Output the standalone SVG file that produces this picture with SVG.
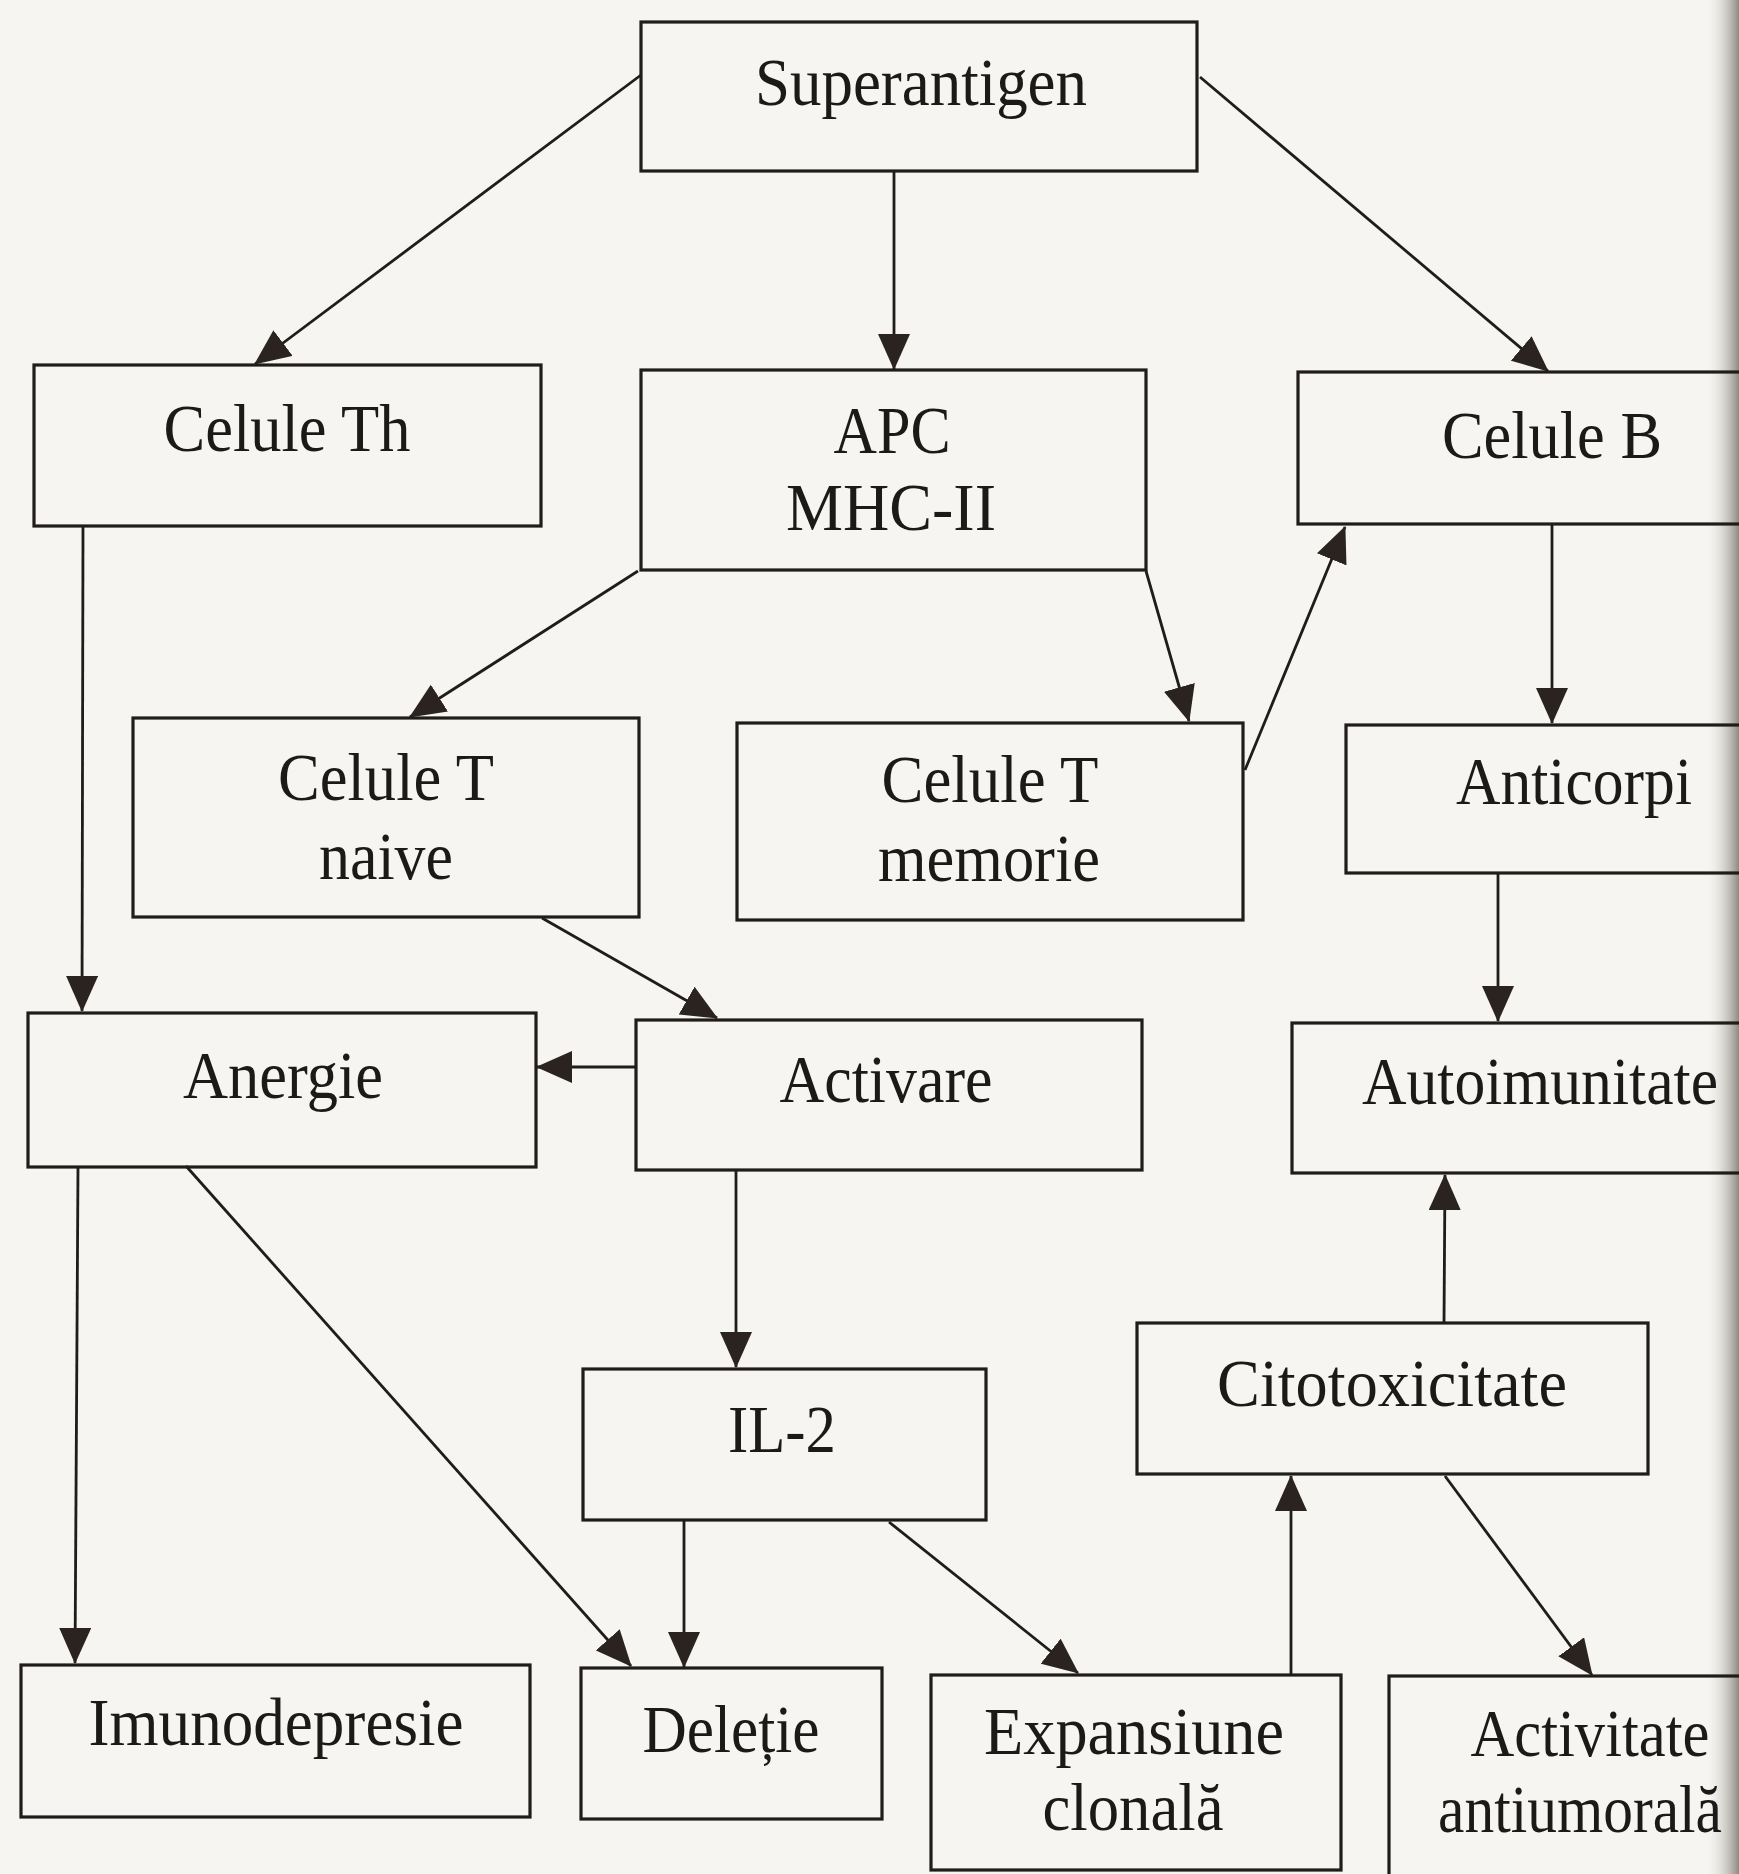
<svg xmlns="http://www.w3.org/2000/svg" width="1739" height="1874" viewBox="0 0 1739 1874">
<style>
.box{fill:none;stroke:#1f1c1a;stroke-width:3.2}
.lbl{font-family:"Liberation Serif","Times New Roman",serif;font-size:68px;fill:#1c1a18;text-anchor:middle}
.con line{stroke:#1f1c1a;stroke-width:2.8;marker-end:url(#ah)}
</style>
<defs>
<marker id="ah" markerUnits="userSpaceOnUse" markerWidth="36" markerHeight="32" refX="35" refY="16" orient="auto">
<path d="M0,0 L36,16 L0,32 z" fill="#2a2320"/>
</marker>
<linearGradient id="edge" x1="0" y1="0" x2="1" y2="0">
<stop offset="0" stop-color="#f6f5f1" stop-opacity="0"/>
<stop offset="1" stop-color="#8e8a82"/>
</linearGradient>
</defs>
<rect x="0" y="0" width="1739" height="1874" fill="#f6f5f1"/>
<rect x="1705" y="0" width="34" height="1874" fill="url(#edge)"/>

<g id="connectors" class="con">
<line x1="641" y1="75" x2="255" y2="364"/>
<line x1="894" y1="172" x2="894" y2="369"/>
<line x1="1200" y1="77" x2="1548" y2="371"/>
<line x1="83" y1="527" x2="82" y2="1011"/>
<line x1="638" y1="571" x2="410" y2="717"/>
<line x1="1146" y1="571" x2="1189" y2="721"/>
<line x1="1245" y1="770" x2="1345" y2="527"/>
<line x1="1552" y1="524" x2="1552" y2="723"/>
<line x1="542" y1="918" x2="717" y2="1018"/>
<line x1="1498" y1="873" x2="1498" y2="1021"/>
<line x1="636" y1="1067" x2="537" y2="1067"/>
<line x1="78" y1="1167" x2="75" y2="1663"/>
<line x1="186" y1="1166" x2="631" y2="1666"/>
<line x1="736" y1="1170" x2="736" y2="1367"/>
<line x1="684" y1="1520" x2="684" y2="1667"/>
<line x1="889" y1="1522" x2="1078" y2="1673"/>
<line x1="1291" y1="1675" x2="1291" y2="1476"/>
<line x1="1444" y1="1323" x2="1445" y2="1175"/>
<line x1="1445" y1="1476" x2="1592" y2="1675"/>
</g>

<g id="superantigen"><rect class="box" x="641" y="22" width="556" height="149"/><text class="lbl" x="921" y="105" textLength="332" lengthAdjust="spacingAndGlyphs">Superantigen</text></g>
<g id="celule-th"><rect class="box" x="34" y="365" width="507" height="161"/><text class="lbl" x="287" y="451" textLength="247" lengthAdjust="spacingAndGlyphs">Celule Th</text></g>
<g id="apc"><rect class="box" x="641" y="370" width="505" height="200"/><text class="lbl" x="892" y="453" textLength="117" lengthAdjust="spacingAndGlyphs">APC</text><text class="lbl" x="891" y="530" textLength="210" lengthAdjust="spacingAndGlyphs">MHC-II</text></g>
<g id="celule-b"><rect class="box" x="1298" y="372" width="470" height="152"/><text class="lbl" x="1552" y="458" textLength="220" lengthAdjust="spacingAndGlyphs">Celule B</text></g>
<g id="celule-t-naive"><rect class="box" x="133" y="718" width="506" height="199"/><text class="lbl" x="386" y="800" textLength="216" lengthAdjust="spacingAndGlyphs">Celule T</text><text class="lbl" x="386" y="879" textLength="134" lengthAdjust="spacingAndGlyphs">naive</text></g>
<g id="celule-t-memorie"><rect class="box" x="737" y="723" width="506" height="197"/><text class="lbl" x="990" y="802" textLength="217" lengthAdjust="spacingAndGlyphs">Celule T</text><text class="lbl" x="989" y="881" textLength="222" lengthAdjust="spacingAndGlyphs">memorie</text></g>
<g id="anticorpi"><rect class="box" x="1346" y="725" width="430" height="148"/><text class="lbl" x="1574" y="804" textLength="236" lengthAdjust="spacingAndGlyphs">Anticorpi</text></g>
<g id="anergie"><rect class="box" x="28" y="1013" width="508" height="154"/><text class="lbl" x="283" y="1098" textLength="200" lengthAdjust="spacingAndGlyphs">Anergie</text></g>
<g id="activare"><rect class="box" x="636" y="1020" width="506" height="150"/><text class="lbl" x="886" y="1102" textLength="213" lengthAdjust="spacingAndGlyphs">Activare</text></g>
<g id="autoimunitate"><rect class="box" x="1292" y="1023" width="470" height="150"/><text class="lbl" x="1540" y="1104" textLength="356" lengthAdjust="spacingAndGlyphs">Autoimunitate</text></g>
<g id="il-2"><rect class="box" x="583" y="1369" width="403" height="151"/><text class="lbl" x="782" y="1452" textLength="108" lengthAdjust="spacingAndGlyphs">IL-2</text></g>
<g id="citotoxicitate"><rect class="box" x="1137" y="1323" width="511" height="151"/><text class="lbl" x="1392" y="1406" textLength="350" lengthAdjust="spacingAndGlyphs">Citotoxicitate</text></g>
<g id="imunodepresie"><rect class="box" x="21" y="1665" width="509" height="152"/><text class="lbl" x="276" y="1745" textLength="375" lengthAdjust="spacingAndGlyphs">Imunodepresie</text></g>
<g id="deletie"><rect class="box" x="581" y="1668" width="301" height="151"/><text class="lbl" x="731" y="1752" textLength="177" lengthAdjust="spacingAndGlyphs">Deleție</text></g>
<g id="expansiune-clonala"><rect class="box" x="931" y="1675" width="410" height="195"/><text class="lbl" x="1134" y="1754" textLength="300" lengthAdjust="spacingAndGlyphs">Expansiune</text><text class="lbl" x="1133" y="1830" textLength="181" lengthAdjust="spacingAndGlyphs">clonală</text></g>
<g id="activitate-antiumorala"><rect class="box" x="1389" y="1676" width="400" height="210"/><text class="lbl" x="1590" y="1756" textLength="239" lengthAdjust="spacingAndGlyphs">Activitate</text><text class="lbl" x="1580" y="1832" textLength="284" lengthAdjust="spacingAndGlyphs">antiumorală</text></g>
</svg>
